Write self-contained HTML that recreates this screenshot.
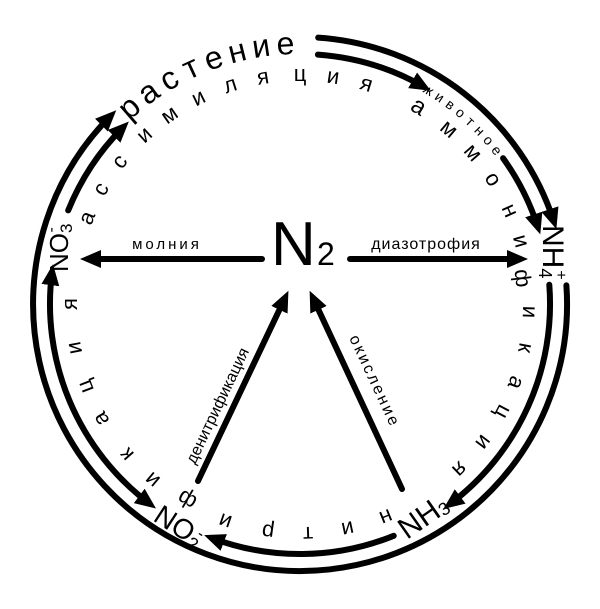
<!DOCTYPE html>
<html><head><meta charset="utf-8"><style>
html,body{margin:0;padding:0;background:#fff;}
svg{display:block;font-family:"Liberation Sans",sans-serif;}
</style></head><body>
<svg width="600" height="609" viewBox="0 0 600 609" xmlns="http://www.w3.org/2000/svg">
<defs>
<marker id="ah" markerUnits="userSpaceOnUse" markerWidth="22" markerHeight="20" refX="13" refY="9" orient="auto-start-reverse">
<path d="M0,0 L21,9 L0,18 z" fill="#000"/>
</marker>
</defs>
<g fill="none" stroke="#000" stroke-width="6" stroke-linecap="round">
<path d="M318.2 37.6 A267 267 0 0 1 553.9 221.5" marker-end="url(#ah)"/>
<path d="M317.9 54.6 A250 250 0 0 1 423.9 86.8" marker-end="url(#ah)"/>
<path d="M503.1 158.2 A250 250 0 0 1 537.8 226.8" marker-end="url(#ah)"/>
<path d="M549.3 284.8 A250 250 0 0 1 449.8 504.2" marker-end="url(#ah)"/>
<path d="M393.7 535.8 A250 250 0 0 1 211.6 537.9" marker-end="url(#ah)"/>
<path d="M149.6 503.7 A250 250 0 0 1 52.0 272.2" marker-start="url(#ah)" marker-end="url(#ah)"/>
<path d="M68.2 210.4 A250 250 0 0 1 123.2 127.2" marker-end="url(#ah)"/>
<path d="M566.4 285.4 A267 267 0 1 1 110.6 115.9" marker-end="url(#ah)"/>
<path d="M262 259 L88 259" marker-end="url(#ah)"/>
<path d="M350 259 L520 259" marker-end="url(#ah)"/>
<path d="M198 481 L285 298" marker-end="url(#ah)"/>
<path d="M402 489 L313 298" marker-end="url(#ah)"/>
</g>

<!-- N2 -->
<text x="271" y="265" font-size="62">N</text>
<text x="317" y="265" font-size="32">2</text>

<text x="167" y="249" font-size="15" text-anchor="middle" letter-spacing="3">молния</text>
<text x="426" y="249" font-size="16" text-anchor="middle" letter-spacing="1">диазотрофия</text>

<text transform="translate(195,465) rotate(-64.5)" font-size="16">денитрификация</text>
<text transform="translate(349,338) rotate(65)" font-size="16" letter-spacing="2.5">окисление</text>

<!-- NO3- -->
<text transform="translate(68,272) rotate(-90)" font-size="26">NO<tspan font-size="17" dy="4">3</tspan><tspan font-size="16" dx="-9" dy="-16">-</tspan></text>
<!-- NH4+ -->
<text transform="translate(543,225) rotate(90)" font-size="30">NH<tspan font-size="18" dy="4">4</tspan><tspan font-size="16" dx="-8" dy="-17">+</tspan></text>
<!-- NH3 -->
<text transform="translate(407,540) rotate(-35)" font-size="30">NH<tspan font-size="18" dy="2">3</tspan></text>
<!-- NO2- -->
<text transform="translate(152,520) rotate(33)" font-size="28">NO<tspan font-size="18" dy="4">2</tspan><tspan font-size="16" dx="-6" dy="-14">-</tspan></text>

<!-- spaced letters -->
<g font-size="22" text-anchor="middle">
<text x="300" y="81" transform="rotate(-68 300 304)">а</text>
<text x="300" y="81" transform="rotate(-60 300 304)">с</text>
<text x="300" y="81" transform="rotate(-51.7 300 304)">с</text>
<text x="300" y="81" transform="rotate(-42.6 300 304)">и</text>
<text x="300" y="81" transform="rotate(-34.6 300 304)">м</text>
<text x="300" y="81" transform="rotate(-26.2 300 304)">и</text>
<text x="300" y="81" transform="rotate(-17.7 300 304)">л</text>
<text x="300" y="81" transform="rotate(-9.3 300 304)">я</text>
<text x="300" y="81" transform="rotate(0 300 304)">ц</text>
<text x="300" y="81" transform="rotate(8.3 300 304)">и</text>
<text x="300" y="81" transform="rotate(16.8 300 304)">я</text>

<text x="300" y="81" transform="rotate(31 300 304)" font-size="24">а</text>
<text x="300" y="81" transform="rotate(40.4 300 304)">м</text>
<text x="300" y="81" transform="rotate(48.8 300 304)">м</text>
<text x="300" y="81" transform="rotate(57.1 300 304)">о</text>
<text x="300" y="81" transform="rotate(66 300 304)">н</text>
<text x="300" y="81" transform="rotate(74.1 300 304)">и</text>
<text x="300" y="87" transform="rotate(83.4 300 304)">ф</text>
<text x="300" y="81" transform="rotate(92 300 304)">и</text>
<text x="300" y="81" transform="rotate(101 300 304)">к</text>
<text x="300" y="81" transform="rotate(110 300 304)">а</text>
<text x="300" y="81" transform="rotate(118 300 304)">ц</text>
<text x="300" y="81" transform="rotate(127 300 304)">и</text>
<text x="300" y="81" transform="rotate(136 300 304)">я</text>

<text x="300" y="81" transform="rotate(158 300 304)">н</text>
<text x="300" y="81" transform="rotate(168 300 304)">и</text>
<text x="300" y="81" transform="rotate(178 300 304)">т</text>
<text x="300" y="81" transform="rotate(188 300 304)">р</text>
<text x="300" y="81" transform="rotate(199 300 304)">и</text>
<text x="300" y="85" transform="rotate(210 300 304)">ф</text>
<text x="300" y="81" transform="rotate(220 300 304)">и</text>
<text x="300" y="81" transform="rotate(229 300 304)">к</text>
<text x="300" y="81" transform="rotate(240 300 304)">а</text>
<text x="300" y="81" transform="rotate(249 300 304)">ц</text>
<text x="300" y="81" transform="rotate(259 300 304)">и</text>
<text x="300" y="81" transform="rotate(270 300 304)">я</text>
</g>

<!-- растение -->
<g font-size="32" text-anchor="middle">
<text x="300" y="54" transform="rotate(-41 300 304)">р</text>
<text x="300" y="54" transform="rotate(-35.6 300 304)">а</text>
<text x="300" y="54" transform="rotate(-30.2 300 304)">с</text>
<text x="300" y="54" transform="rotate(-24.8 300 304)">т</text>
<text x="300" y="54" transform="rotate(-19.4 300 304)">е</text>
<text x="300" y="54" transform="rotate(-14 300 304)">н</text>
<text x="300" y="54" transform="rotate(-8.6 300 304)">и</text>
<text x="300" y="54" transform="rotate(-3.2 300 304)">е</text>
</g>

<!-- животное -->
<g font-size="14" text-anchor="middle">
<text x="300" y="59" transform="rotate(31 300 304)">ж</text>
<text x="300" y="59" transform="rotate(34 300 304)">и</text>
<text x="300" y="59" transform="rotate(37 300 304)">в</text>
<text x="300" y="59" transform="rotate(40 300 304)">о</text>
<text x="300" y="59" transform="rotate(43 300 304)">т</text>
<text x="300" y="59" transform="rotate(46 300 304)">н</text>
<text x="300" y="59" transform="rotate(49 300 304)">о</text>
<text x="300" y="59" transform="rotate(52 300 304)">е</text>
</g>
</svg>
</body></html>
